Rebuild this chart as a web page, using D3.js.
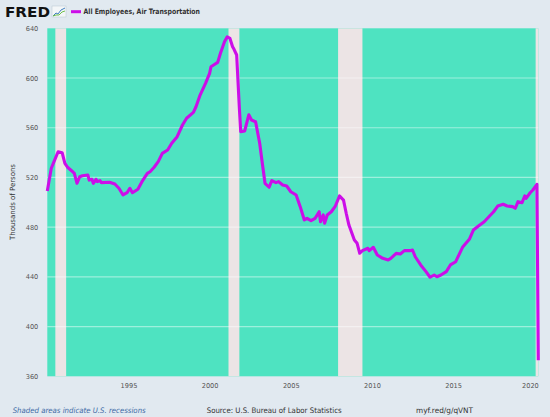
<!DOCTYPE html>
<html>
<head>
<meta charset="utf-8">
<script src="https://cdn.jsdelivr.net/npm/d3@7"></script>
<style>
  html, body { margin: 0; padding: 0; background: #e1e9f0; }
  svg { display: block; font-family: "DejaVu Sans", sans-serif; }
</style>
</head>
<body>
<div id="chart"></div>
<script>
// readings taken from the reference graph (thousands of persons)
var months = [
  "1990-01","1990-04","1990-06","1990-09","1990-12","1991-02","1991-04","1991-07","1991-09","1991-11",
  "1992-01","1992-03","1992-07","1992-08","1992-10","1992-11","1993-01","1993-02","1993-04","1993-05",
  "1993-11","1994-03","1994-06","1994-09","1994-12","1995-02","1995-04","1995-08","1995-11","1996-03",
  "1996-05","1996-08","1996-11","1997-02","1997-06","1997-09","1998-01","1998-05","1998-08","1999-01",
  "1999-03","1999-06","1999-10","2000-01","2000-02","2000-04","2000-07","2000-09","2000-12","2001-02",
  "2001-04","2001-06","2001-07","2001-09","2001-11","2001-12","2002-03","2002-06","2002-08","2002-11",
  "2003-02","2003-04","2003-06","2003-09","2003-11","2004-02","2004-04","2004-07","2004-10","2005-01",
  "2005-05","2005-08","2005-11","2006-01","2006-04","2006-07","2006-10","2006-11","2007-01","2007-02",
  "2007-04","2007-07","2007-10","2008-01","2008-04","2008-06","2008-08","2008-12","2009-02","2009-04",
  "2009-06","2009-10","2009-11","2010-02","2010-05","2010-09","2011-01","2011-03","2011-07","2011-10",
  "2012-01","2012-05","2012-07","2012-09","2013-01","2013-05","2013-08","2013-11","2014-01","2014-04",
  "2014-08","2014-11","2015-03","2015-08","2016-01","2016-04","2016-08","2016-12","2017-04","2017-07",
  "2017-10","2018-02","2018-05","2018-09","2018-11","2019-01","2019-04","2019-06","2019-07","2019-10",
  "2019-12","2020-03","2020-04"
];
var employees = [
  509.1,527.4,532.7,540.7,539.9,531.4,528.2,525.4,523.3,515.3,
  520.6,521.4,522.0,517.9,518.5,515.3,518.5,516.6,517.4,515.8,
  516.1,514.7,511.3,505.9,507.7,511.3,507.7,510.5,516.6,523.3,
  524.6,528.2,532.7,539.4,542.1,547.5,552.8,562.2,567.6,572.4,
  576.9,586.3,595.7,603.7,609.1,610.5,612.6,619.9,629.2,633.2,
  632.0,625.2,623.3,618.5,575.6,556.8,557.4,570.4,566.2,564.8,
  547.5,531.4,515.3,512.1,517.4,515.8,516.6,513.9,513.1,508.5,
  505.9,496.5,485.8,487.1,485.2,487.1,492.4,484.4,489.8,483.1,
  489.8,492.4,497.0,505.1,501.8,491.2,481.7,469.6,467.0,459.0,
  461.1,463.0,461.1,463.8,457.6,454.9,453.6,454.9,458.9,458.4,
  461.1,461.1,461.6,456.2,449.6,444.2,439.7,441.5,440.1,441.5,
  444.2,449.6,452.2,463.8,470.2,477.7,481.2,484.4,489.0,492.4,
  497.0,498.4,497.0,496.5,495.2,500.5,499.7,505.1,503.2,507.7,
  509.9,514.5,373.0
];
var recessionStarts = ["1990-07","2001-03","2007-12","2020-02"];
var recessionEnds   = ["1991-03","2001-11","2009-06","2020-04"];
var yTicks = [360, 400, 440, 480, 520, 560, 600, 640];
var xTickYears = [1995, 2000, 2005, 2010, 2015, 2020];

var seriesName = "All Employees, Air Transportation";
var yTitle = "Thousands of Persons";

var width = 550;
var height = 417;
var plot = { left: 47.3, right: 538.3, top: 28.3, bottom: 376.3 };

var parseMonth = d3.timeParse("%Y-%m");
var data = months.map(function(m, i) { return { date: parseMonth(m), value: employees[i] }; });

var svg = d3.select("#chart")
  .append("svg")
  .attr("width", width)
  .attr("height", height);

svg.append("rect")
  .attr("width", width)
  .attr("height", height)
  .attr("fill", "#e1e9f0");

var x = d3.scaleTime()
  .domain([parseMonth("1990-01"), parseMonth("2020-04")])
  .range([plot.left, plot.right]);

var y = d3.scaleLinear()
  .domain([360, 640])
  .range([plot.bottom, plot.top]);

// plot background
svg.append("rect")
  .attr("x", plot.left)
  .attr("y", plot.top)
  .attr("width", plot.right - plot.left)
  .attr("height", plot.bottom - plot.top)
  .attr("fill", "#4ee3c1");

// recession shading
svg.append("g")
  .selectAll("rect")
  .data(recessionStarts)
  .enter()
  .append("rect")
  .attr("x", function(d) { return x(parseMonth(d)); })
  .attr("y", plot.top)
  .attr("width", function(d, i) { return x(parseMonth(recessionEnds[i])) - x(parseMonth(d)); })
  .attr("height", plot.bottom - plot.top)
  .attr("fill", "#ece4e5");

// horizontal grid
svg.append("g")
  .selectAll("line")
  .data(yTicks.slice(1, -1))
  .enter()
  .append("line")
  .attr("x1", plot.left)
  .attr("x2", plot.right)
  .attr("y1", function(d) { return y(d); })
  .attr("y2", function(d) { return y(d); })
  .attr("stroke", "#ffffff")
  .attr("stroke-opacity", 0.45)
  .attr("stroke-width", 1.2);

// y axis labels
var yAxis = d3.axisLeft(y)
  .tickValues(yTicks)
  .tickSize(0)
  .tickPadding(9);

var gy = svg.append("g")
  .attr("transform", "translate(" + plot.left + ",0)")
  .call(yAxis);
gy.select(".domain").remove();
gy.selectAll("text")
  .attr("font-family", "DejaVu Sans, sans-serif")
  .attr("font-size", 6.6)
  .attr("fill", "#555");

// x axis labels
var xAxis = d3.axisBottom(x)
  .tickValues(xTickYears.map(function(yr) { return new Date(yr, 0, 1); }))
  .tickFormat(d3.timeFormat("%Y"))
  .tickSize(0)
  .tickPadding(7);

var gx = svg.append("g")
  .attr("transform", "translate(0," + plot.bottom + ")")
  .call(xAxis);
gx.select(".domain").remove();
gx.selectAll("text")
  .attr("font-family", "DejaVu Sans, sans-serif")
  .attr("font-size", 6.6)
  .attr("fill", "#555");
// last label is pushed inside the plot edge
gx.selectAll(".tick").filter(function(d) { return d.getFullYear() === 2020; })
  .select("text")
  .attr("text-anchor", "end")
  .attr("x", plot.right - x(new Date(2020, 0, 1)));

// y title
svg.append("text")
  .attr("transform", "translate(15," + 202 + ") rotate(-90)")
  .attr("text-anchor", "middle")
  .attr("font-size", 7.2)
  .attr("fill", "#333")
  .attr("textLength", 76)
  .attr("lengthAdjust", "spacingAndGlyphs")
  .text(yTitle);

// series line
var line = d3.line()
  .x(function(d) { return x(d.date); })
  .y(function(d) { return y(d.value); });

svg.append("path")
  .datum(data)
  .attr("d", line)
  .attr("fill", "none")
  .attr("stroke", "#cc0ee8")
  .attr("stroke-width", 3.1)
  .attr("stroke-linejoin", "round");

// header: FRED logo + legend
svg.append("text")
  .attr("x", 5)
  .attr("y", 17.4)
  .attr("font-size", 14)
  .attr("font-weight", "bold")
  .attr("fill", "#111")
  .attr("textLength", 45)
  .attr("lengthAdjust", "spacingAndGlyphs")
  .text("FRED");

var icon = svg.append("g").attr("transform", "translate(52,6)");
icon.append("rect")
  .attr("width", 14)
  .attr("height", 11)
  .attr("fill", "#f3f6f8")
  .attr("stroke", "#b9c6cf")
  .attr("stroke-width", 0.5);
icon.append("polyline")
  .attr("points", "1,10 4,7 6,8 9,4 13,2")
  .attr("fill", "none")
  .attr("stroke", "#3f7fc0")
  .attr("stroke-width", 1);
icon.append("polyline")
  .attr("points", "1,10 4,9 7,9 10,6 13,5")
  .attr("fill", "none")
  .attr("stroke", "#6fbf4a")
  .attr("stroke-width", 1);

svg.append("rect")
  .attr("x", 71)
  .attr("y", 10.2)
  .attr("width", 10)
  .attr("height", 3)
  .attr("fill", "#cc0ee8");

svg.append("text")
  .attr("x", 83.5)
  .attr("y", 14.2)
  .attr("font-size", 7.4)
  .attr("font-weight", "bold")
  .attr("fill", "#333")
  .attr("textLength", 116.5)
  .attr("lengthAdjust", "spacingAndGlyphs")
  .text(seriesName);

// footer
svg.append("text")
  .attr("x", 12.7)
  .attr("y", 412.5)
  .attr("font-size", 7.6)
  .attr("font-style", "italic")
  .attr("fill", "#3d6aa6")
  .attr("textLength", 133)
  .attr("lengthAdjust", "spacingAndGlyphs")
  .text("Shaded areas indicate U.S. recessions");

svg.append("text")
  .attr("x", 206.7)
  .attr("y", 412.5)
  .attr("font-size", 7.6)
  .attr("fill", "#333")
  .attr("textLength", 135)
  .attr("lengthAdjust", "spacingAndGlyphs")
  .text("Source: U.S. Bureau of Labor Statistics");

svg.append("text")
  .attr("x", 416)
  .attr("y", 412.5)
  .attr("font-size", 7.6)
  .attr("fill", "#333")
  .attr("textLength", 57)
  .attr("lengthAdjust", "spacingAndGlyphs")
  .text("myf.red/g/qVNT");
</script>
</body>
</html>
